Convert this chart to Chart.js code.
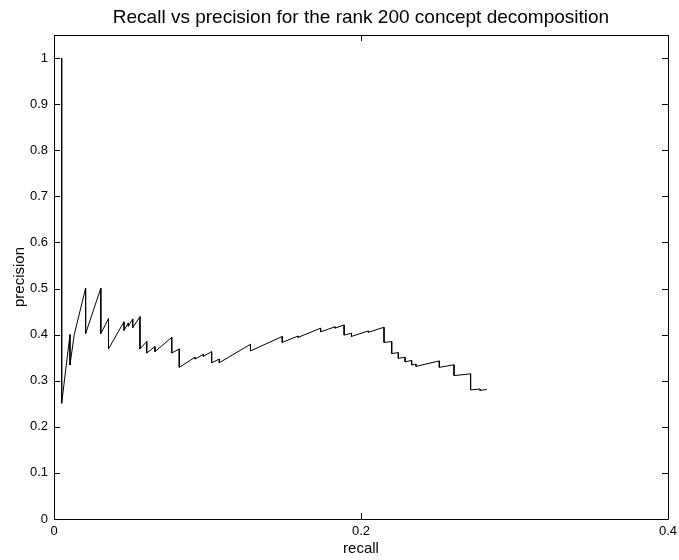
<!DOCTYPE html>
<html>
<head>
<meta charset="utf-8">
<script src="https://cdn.jsdelivr.net/npm/chart.js@4/dist/chart.umd.min.js"></script>
<style>
  html, body { margin: 0; padding: 0; background: #fff; }
  canvas { display: block; }
</style>
</head>
<body>
<canvas id="pr" width="679" height="560"></canvas>
<script>
(() => {
  'use strict';
  const RECALL = [0.005, 0.005, 0.0104, 0.0104, 0.0132, 0.0206, 0.0206, 0.0305, 0.0305, 0.0355, 0.0355, 0.0456, 0.0456, 0.0484, 0.0484, 0.0513, 0.0513, 0.056, 0.056, 0.0604, 0.0604, 0.0658, 0.0658, 0.0767, 0.0767, 0.0816, 0.0816, 0.0919, 0.0919, 0.0973, 0.0973, 0.1027, 0.1027, 0.1077, 0.1077, 0.128, 0.128, 0.1487, 0.1487, 0.159, 0.159, 0.1737, 0.1737, 0.1831, 0.1831, 0.189, 0.189, 0.1938, 0.1938, 0.2048, 0.2048, 0.215, 0.215, 0.22, 0.22, 0.2243, 0.2243, 0.2287, 0.2287, 0.233, 0.233, 0.2358, 0.2358, 0.251, 0.251, 0.2606, 0.2606, 0.2714, 0.2714, 0.2775, 0.2775, 0.2819];
  const PRECISION = [1.0, 0.251, 0.40, 0.334, 0.40, 0.501, 0.402, 0.501, 0.402, 0.435, 0.369, 0.428, 0.409, 0.425, 0.418, 0.434, 0.415, 0.439, 0.369, 0.385, 0.36, 0.374, 0.363, 0.394, 0.36, 0.369, 0.329, 0.351, 0.347, 0.357, 0.353, 0.363, 0.339, 0.347, 0.339, 0.379, 0.3645, 0.396, 0.383, 0.397, 0.394, 0.414, 0.406, 0.417, 0.414, 0.421, 0.399, 0.403, 0.396, 0.408, 0.405, 0.416, 0.383, 0.385, 0.359, 0.361, 0.3485, 0.351, 0.341, 0.344, 0.334, 0.336, 0.331, 0.343, 0.329, 0.3345, 0.311, 0.315, 0.280, 0.282, 0.279, 0.281];
  const X_TICKS = [0, 0.2, 0.4];
  const Y_TICKS = [0, 0.1, 0.2, 0.3, 0.4, 0.5, 0.6, 0.7, 0.8, 0.9, 1];
  const TITLE = 'Recall vs precision for the rank 200 concept decomposition';

  const FONT = '"Liberation Sans", Arial, Helvetica, sans-serif';
  const TICK_LEN = 6;
  const fmt = v => String(+v.toFixed(2));

  // axes box with inward ticks on all four sides, title centred over the plot
  const boxPlugin = {
    id: 'box',
    afterDraw(chart) {
      const { ctx, chartArea: a, scales: { x, y } } = chart;
      ctx.save();
      ctx.strokeStyle = '#000';
      ctx.lineWidth = 1;
      ctx.beginPath();
      ctx.rect(Math.round(a.left) + 0.5, Math.round(a.top) + 0.5, Math.round(a.right - a.left), Math.round(a.bottom - a.top));
      X_TICKS.forEach(v => {
        const px = Math.round(x.getPixelForValue(v)) + 0.5;
        ctx.moveTo(px, a.bottom); ctx.lineTo(px, a.bottom - TICK_LEN);
        ctx.moveTo(px, a.top); ctx.lineTo(px, a.top + TICK_LEN);
      });
      Y_TICKS.forEach(v => {
        const py = Math.round(y.getPixelForValue(v)) + 0.5;
        ctx.moveTo(a.left, py); ctx.lineTo(a.left + TICK_LEN, py);
        ctx.moveTo(a.right, py); ctx.lineTo(a.right - TICK_LEN, py);
      });
      ctx.stroke();

      ctx.fillStyle = '#000';
      ctx.font = `19px ${FONT}`;
      ctx.textAlign = 'center';
      ctx.textBaseline = 'alphabetic';
      ctx.fillText(TITLE, (a.left + a.right) / 2, 23);
      ctx.restore();
    }
  };

  new Chart(document.getElementById('pr'), {
    type: 'scatter',
    data: {
      datasets: [{
        data: RECALL.map((r, i) => ({ x: r, y: PRECISION[i] })),
        showLine: true,
        borderColor: '#000',
        borderWidth: 1,
        pointRadius: 0,
        tension: 0,
        fill: false
      }]
    },
    options: {
      responsive: false,
      animation: false,
      layout: { padding: { left: 0, right: 11, top: 35, bottom: 0 } },
      plugins: {
        legend: { display: false },
        tooltip: { enabled: false },
        title: { display: false }
      },
      scales: {
        x: {
          type: 'linear', min: 0, max: 0.4,
          afterFit: s => { s.height = 41; s.paddingLeft = 0; s.paddingRight = 0; },
          afterBuildTicks: s => { s.ticks = X_TICKS.map(v => ({ value: v })); },
          grid: { display: false, drawTicks: false },
          border: { display: false },
          ticks: { color: '#000', padding: 5, maxRotation: 0, font: { family: FONT, size: 13 }, callback: fmt },
          title: { display: true, text: 'recall', color: '#000', font: { family: FONT, size: 15 }, padding: { top: 0, bottom: 2 } }
        },
        y: {
          type: 'linear', min: 0, max: 1.05,
          afterFit: s => { s.width = 54; s.paddingTop = 0; s.paddingBottom = 0; },
          afterBuildTicks: s => { s.ticks = Y_TICKS.map(v => ({ value: v })); },
          grid: { display: false, drawTicks: false },
          border: { display: false },
          ticks: { color: '#000', padding: 6, font: { family: FONT, size: 13 }, callback: fmt },
          title: { display: true, text: 'precision', color: '#000', font: { family: FONT, size: 15 }, padding: { top: 11, bottom: 0 } }
        }
      }
    },
    plugins: [boxPlugin]
  });
})();
</script>
</body>
</html>
